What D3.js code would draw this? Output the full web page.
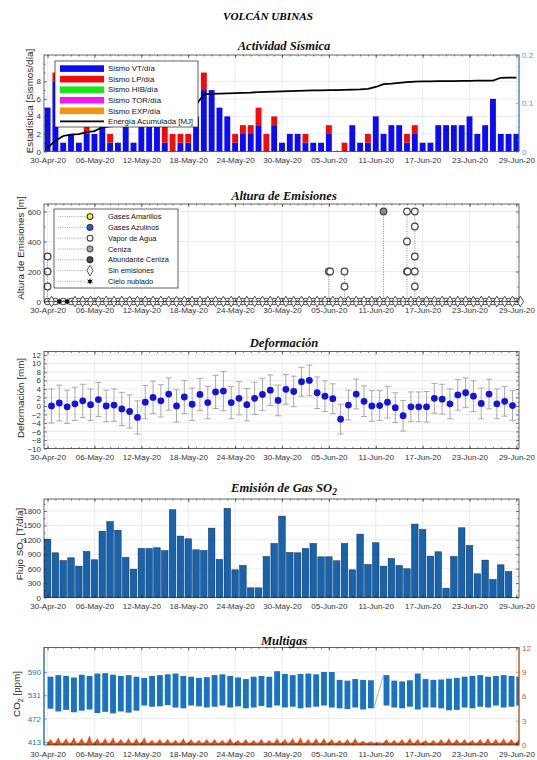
<!DOCTYPE html>
<html><head><meta charset="utf-8">
<script src="https://cdn.jsdelivr.net/npm/d3@7/dist/d3.min.js"></script>
<style>body{margin:0;background:#fff}svg{display:block}</style>
</head><body>
<svg id="chart" width="537" height="760"></svg>
<script>
// ===================== DATA =====================
const tickLabels = ["30-Apr-20","06-May-20","12-May-20","18-May-20","24-May-20","30-May-20","05-Jun-20","11-Jun-20","17-Jun-20","23-Jun-20","29-Jun-20"];

// Actividad sísmica (30-Apr .. 29-Jun, 61 days)
const sismoVT = [5,8,1,2,1,2,2,4,1,1,3,1,4,5,4,1,0,1,1,4,7,7,5,4,1,2,2,3,0,3,1,2,2,1,1,1,2,0,0,3,1,1,4,2,3,3,1,2,1,1,3,3,3,3,4,2,3,6,2,2,2];
const sismoLP = [0,1,0,0,0,1,0,0,1,0,0,0,0,0,0,3,2,1,1,0,2,0,0,0,1,1,1,2,2,1,0,0,0,1,0,0,1,0,1,0,0,1,0,0,0,0,1,1,0,0,0,0,0,0,0,0,0,0,0,0,0];
const energia = [0.008,0.022,0.032,0.035,0.036,0.040,0.042,0.050,0.052,0.053,0.058,0.059,0.066,0.074,0.080,0.086,0.089,0.091,0.093,0.096,0.118,0.119,0.1195,0.120,0.1205,0.121,0.1215,0.1225,0.123,0.1235,0.124,0.1245,0.125,0.1255,0.126,0.126,0.1265,0.1265,0.127,0.1275,0.128,0.129,0.133,0.139,0.140,0.1415,0.143,0.144,0.1445,0.1445,0.145,0.145,0.145,0.1455,0.1455,0.146,0.146,0.146,0.152,0.1525,0.1525];
const sismoLeyenda = ["Sismo VT/día","Sismo LP/día","Sismo HIB/día","Sismo TOR/día","Sismo EXP/día","Energía Acumulada [MJ]"];
const sismoColores = ["#0b0bf5","#f50a0a","#19e619","#f019f0","#f5960a","#000000"];

// Altura de emisiones
const emisDia  = [0,0,0,36,36.2,38,38,43,46,46.1,46,46,47,47,47,47,47];
const emisAlt  = [100,200,300,200,200,100,200,600,200,200,400,600,100,200,300,500,600];
const emisTipo = ["vapor","vapor","vapor","vapor","vapor","vapor","vapor","ceniza","vapor","vapor","vapor","vapor","vapor","vapor","vapor","vapor","vapor"];
const nubladoDia = [1,2];
const emisLeyenda = ["Gases Amarillos","Gases Azulinos","Vapor de Agua","Ceniza","Abundante Ceniza","Sin emisiones","Cielo nublado"];

// Deformación (diaria, 30-Apr .. 28-Jun)
const deformacion = [0.0,0.7,-0.2,0.5,1.2,0.3,1.5,0.0,0.2,-0.7,-1.3,-2.7,0.9,2.0,1.2,2.8,0.0,2.1,0.4,2.7,0.8,3.3,3.5,0.8,1.8,0.3,1.8,2.7,3.7,1.3,3.9,3.4,5.7,6.0,3.1,2.3,1.7,-3.1,0.2,2.8,1.1,0.0,0.1,0.9,-0.4,-2.3,-0.2,-0.2,-0.2,1.8,1.6,0.5,2.6,3.1,2.3,0.6,2.8,0.5,1.1,0.1];
const deformErr = [4.0,4.2,3.9,3.9,3.9,3.7,4.0,3.7,3.8,3.9,3.9,3.9,3.9,3.8,3.8,3.8,3.8,3.9,3.8,3.8,3.8,3.9,4.6,3.8,3.9,3.8,3.8,3.8,3.6,3.6,3.5,3.6,3.4,3.6,3.7,3.6,3.5,3.5,3.5,3.5,3.6,3.6,3.5,3.7,3.5,3.6,3.5,3.5,3.6,3.5,3.5,3.5,3.6,3.5,3.6,3.6,3.5,3.5,3.5,3.5];

// Flujo SO2 [T/día] (30-Apr .. 28-Jun)
const so2 = [1215,930,770,826,653,958,785,1380,1580,1400,833,590,1020,1020,1035,975,1826,1278,1222,993,979,1444,792,1854,576,667,201,201,854,1125,1694,937,930,1020,1125,847,847,764,1125,576,1319,687,1139,653,812,667,597,1528,1417,861,951,194,854,1451,1083,493,778,375,680,541];

// Multigas: CO2 rango diario [ppm] y serie derecha (eje 0-12)
const co2Min = [497,490,494,488,492,495,486,489,485,490,487,492,505,502,503,506,500,498,505,503,500,502,505,500,503,498,500,504,500,505,500,502,498,500,502,505,500,498,496,500,495,498,null,505,500,498,502,495,500,500,498,493,494,500,498,502,500,505,500,502,505];
const co2Max = [578,582,580,576,583,580,586,587,583,580,582,578,575,580,582,584,586,580,578,575,577,582,584,580,576,572,578,580,578,592,585,582,585,586,584,590,590,570,568,572,570,569,null,582,568,566,569,586,572,570,571,573,575,578,580,582,578,580,582,580,578];
const gasDerMax = [0.7,0.9,0.8,0.9,0.8,1.1,0.8,0.8,0.9,0.7,0.8,0.8,0.9,0.6,0.7,0.7,0.6,0.8,0.7,0.6,0.7,0.7,0.6,0.8,0.6,0.7,0.6,0.7,0.6,0.8,0.7,0.8,0.9,0.7,0.8,0.8,0.7,0.6,0.7,0.8,0.5,0.4,0.3,0.7,0.6,0.7,0.8,0.7,0.6,0.6,0.7,0.8,0.7,0.7,0.6,0.7,0.8,0.7,0.8,0.7,0.8];
const gasDerBase = 0.25;

// ===================== CHART =====================
const FONT = "'Liberation Sans', Arial, Helvetica, sans-serif";
const SERIF = "'Liberation Serif', 'Times New Roman', serif";
const svg = d3.select("#chart");
const parse = d3.timeParse("%d-%b-%y");
const tickDates = tickLabels.map(parse);
const start = tickDates[0], end = tickDates[tickDates.length - 1];
const days = d3.timeDay.range(start, d3.timeDay.offset(end, 1));
const hr = (d, h) => d3.timeHour.offset(d, h);
const L = 44, R = 519;
const x = d3.scaleTime().domain([hr(start, -11), hr(end, 8)]).range([L, R]);
const GRID = "#e4e4e4", AX = "#262626";

function styleAxis(sel, color) {
  sel.attr("font-family", FONT).attr("font-size", 8).attr("color", color || AX);
  sel.select(".domain").remove();
  sel.selectAll(".tick line").attr("stroke-width", 0.6);
  sel.selectAll(".tick text").attr("fill", color || "#333");
}
function grid(g, y, yTicks) {
  const [b, t] = y.range();
  g.append("g").selectAll("line").data(tickDates).join("line")
    .attr("x1", d => x(d)).attr("x2", d => x(d)).attr("y1", t).attr("y2", b)
    .attr("stroke", GRID).attr("stroke-width", 0.7);
  g.append("g").selectAll("line").data(yTicks).join("line")
    .attr("x1", L).attr("x2", R).attr("y1", d => y(d)).attr("y2", d => y(d))
    .attr("stroke", GRID).attr("stroke-width", 0.7);
}
function frame(g, y, o) {
  const [b, t] = y.range();
  g.append("g").attr("transform", `translate(0,${b})`)
    .call(d3.axisBottom(x).tickValues(tickDates).tickFormat((d, i) => tickLabels[i]).tickSizeInner(-3).tickSizeOuter(0).tickPadding(6))
    .call(styleAxis);
  g.append("g").attr("transform", `translate(0,${b})`)
    .call(d3.axisBottom(x).tickValues(days).tickSize(-1.5).tickFormat("")).call(styleAxis);
  g.append("g").attr("transform", `translate(0,${t})`)
    .call(d3.axisTop(x).tickValues(tickDates).tickSize(-3).tickFormat("")).call(styleAxis);
  g.append("g").attr("transform", `translate(0,${t})`)
    .call(d3.axisTop(x).tickValues(days).tickSize(-1.5).tickFormat("")).call(styleAxis);
  g.append("g").attr("transform", `translate(${L},0)`)
    .call(d3.axisLeft(y).tickValues(o.yTicks).tickFormat(o.fmt || d3.format("d")).tickSizeInner(-3).tickSizeOuter(0).tickPadding(3))
    .call(styleAxis, o.leftColor);
  if (o.yMinor) g.append("g").attr("transform", `translate(${L},0)`)
    .call(d3.axisLeft(y).tickValues(o.yMinor).tickSize(-1.5).tickFormat("")).call(styleAxis, o.leftColor);
  if (!o.noRight) {
    g.append("g").attr("transform", `translate(${R},0)`)
      .call(d3.axisRight(y).tickValues(o.yTicks).tickSize(-3).tickFormat("")).call(styleAxis);
    if (o.yMinor) g.append("g").attr("transform", `translate(${R},0)`)
      .call(d3.axisRight(y).tickValues(o.yMinor).tickSize(-1.5).tickFormat("")).call(styleAxis);
  }
  g.append("rect").attr("x", L).attr("y", t).attr("width", R - L).attr("height", b - t)
    .attr("fill", "none").attr("stroke", AX).attr("stroke-width", 0.7);
  if (o.leftColor) g.append("line").attr("x1", L).attr("x2", L).attr("y1", t).attr("y2", b).attr("stroke", o.leftColor).attr("stroke-width", 0.9);
}
function ptitle(yb, text, sub) {
  const t = svg.append("text").attr("x", 284).attr("y", yb).attr("text-anchor", "middle")
    .attr("font-family", SERIF).attr("font-weight", "bold").attr("font-style", "italic").attr("font-size", 12.6).attr("fill", "#111");
  t.append("tspan").text(text);
  if (sub) { t.append("tspan").attr("dy", 3.5).attr("font-size", 9.5).text(sub); }
}
function ylabel(xp, yc, parts) {
  const t = svg.append("text").attr("transform", `translate(${xp},${yc}) rotate(-90)`).attr("text-anchor", "middle")
    .attr("font-family", FONT).attr("font-size", 9.8).attr("fill", AX);
  parts.forEach(p => { const s = t.append("tspan").text(p.t); if (p.dy) s.attr("dy", p.dy); if (p.fs) s.attr("font-size", p.fs); });
}
function clip(id, y) {
  const [b, t] = y.range();
  svg.append("clipPath").attr("id", id).append("rect").attr("x", L).attr("y", t).attr("width", R - L).attr("height", b - t);
  return `url(#${id})`;
}

// Main title
svg.append("text").attr("x", 268).attr("y", 19.5).attr("text-anchor", "middle")
  .attr("font-family", SERIF).attr("font-weight", "bold").attr("font-style", "italic").attr("font-size", 11.2).text("VOLCÁN UBINAS");

// ---------- Panel 1: Actividad Sísmica ----------
{
  const y = d3.scaleLinear().domain([0, 11]).range([151.5, 55]);
  const yE = d3.scaleLinear().domain([0, 0.2]).range([151.5, 54.5]);
  const g = svg.append("g");
  ptitle(50, "Actividad Sísmica");
  grid(g, y, [2, 4, 6, 8]);
  const data = g.append("g").attr("clip-path", clip("c1", y));
  const bw = x(hr(start, 9)) - x(hr(start, -9));
  data.selectAll(".vt").data(days).join("rect")
    .attr("x", d => x(d) - bw / 2).attr("width", bw)
    .attr("y", (d, i) => y(sismoVT[i])).attr("height", (d, i) => y(0) - y(sismoVT[i]))
    .attr("fill", sismoColores[0]);
  data.selectAll(".lp").data(days).join("rect")
    .attr("x", d => x(d) - bw / 2).attr("width", bw)
    .attr("y", (d, i) => y(sismoVT[i] + sismoLP[i])).attr("height", (d, i) => y(sismoVT[i]) - y(sismoVT[i] + sismoLP[i]))
    .attr("fill", sismoColores[1]);
  data.append("path").datum(days)
    .attr("d", d3.line().x(d => x(d)).y((d, i) => yE(energia[i])))
    .attr("fill", "none").attr("stroke", "#000").attr("stroke-width", 1.8);
  frame(g, y, { yTicks: [0, 2, 4, 6, 8], yMinor: [1, 3, 5, 7, 9, 10], noRight: true });
  const RC = "#4a9ad4";
  g.append("g").attr("transform", `translate(${R},0)`)
    .call(d3.axisRight(yE).tickValues([0, 0.1, 0.2]).tickFormat(d => d === 0 ? "0" : d3.format(".1f")(d)).tickSizeInner(-3).tickSizeOuter(0).tickPadding(3))
    .call(styleAxis, RC);
  g.append("g").attr("transform", `translate(${R},0)`)
    .call(d3.axisRight(yE).tickValues([0.025, 0.05, 0.075, 0.125, 0.15, 0.175]).tickSize(-1.5).tickFormat("")).call(styleAxis, RC);
  g.append("line").attr("x1", R).attr("x2", R).attr("y1", 54.5).attr("y2", 151.5).attr("stroke", RC).attr("stroke-width", 0.9);
  // legend
  const lg = g.append("g");
  lg.append("rect").attr("x", 55).attr("y", 61).attr("width", 143).attr("height", 66).attr("fill", "#fff").attr("stroke", "#222").attr("stroke-width", 0.7);
  sismoLeyenda.forEach((t, k) => {
    const yy = 68.6 + k * 10.55;
    if (k < 5) lg.append("rect").attr("x", 60).attr("y", yy - 3.3).attr("width", 44).attr("height", 6.6).attr("fill", sismoColores[k]);
    else lg.append("line").attr("x1", 60).attr("x2", 104).attr("y1", yy).attr("y2", yy).attr("stroke", "#000").attr("stroke-width", 1.8);
    lg.append("text").attr("x", 108).attr("y", yy).attr("dy", "0.35em").attr("font-family", FONT).attr("font-size", 7.8).attr("fill", "#111").text(t);
  });
  ylabel(33, 101, [{ t: "Estadística [Sismos/día]" }]);
}

// ---------- Panel 2: Altura de Emisiones ----------
const markerStyle = {
  amarillo: { fill: "#ffff00", stroke: "#333" },
  azulino: { fill: "#1f5fd0", stroke: "#333" },
  vapor: { fill: "#fff", stroke: "#444" },
  ceniza: { fill: "#8c8c8c", stroke: "#444" },
  abundante: { fill: "#4d4d4d", stroke: "#222" }
};
{
  const y = d3.scaleLinear().domain([0, 650]).range([301.5, 204]);
  const g = svg.append("g");
  ptitle(200, "Altura de Emisiones");
  grid(g, y, [200, 400, 600]);
  const data = g.append("g");
  const stemDays = Array.from(d3.rollup(emisDia.map((d, i) => [Math.round(d), emisAlt[i]]), v => d3.max(v, e => e[1]), e => e[0]));
  data.selectAll(".stem").data(stemDays).join("line")
    .attr("x1", d => x(hr(start, d[0] * 24))).attr("x2", d => x(hr(start, d[0] * 24)))
    .attr("y1", y(0)).attr("y2", d => y(d[1]))
    .attr("stroke", "#555").attr("stroke-width", 0.7).attr("stroke-dasharray", "1,1.4");
  data.selectAll(".base").data(days).join("circle")
    .attr("cx", d => x(d)).attr("cy", y(0)).attr("r", 3.2)
    .attr("fill", "#fff").attr("stroke", "#555").attr("stroke-width", 1.1);
  const diamond = d3.symbol().type(d3.symbolDiamond).size(34);
  data.selectAll(".dia").data(days.filter((d, i) => !nubladoDia.includes(i))).join("path")
    .attr("transform", d => `translate(${x(hr(d, 12))},${y(0)})`).attr("d", diamond)
    .attr("fill", "#fff").attr("stroke", "#555").attr("stroke-width", 1);
  const ast = d3.symbol().type(d3.symbolAsterisk).size(22);
  data.selectAll(".nub").data(nubladoDia).join("g")
    .attr("transform", d => `translate(${x(hr(days[d], 12))},${y(0)})`)
    .call(s => { s.append("path").attr("d", ast).attr("stroke", "#000").attr("stroke-width", 1); s.append("circle").attr("r", 1.8).attr("fill", "#000"); });
  data.selectAll(".em").data(emisDia).join("circle")
    .attr("cx", d => x(hr(start, d * 24))).attr("cy", (d, i) => y(emisAlt[i])).attr("r", 3.3)
    .attr("fill", (d, i) => markerStyle[emisTipo[i]].fill).attr("stroke", (d, i) => markerStyle[emisTipo[i]].stroke).attr("stroke-width", 1.2);
  frame(g, y, { yTicks: [0, 200, 400, 600], yMinor: [100, 300, 500] });
  const lg = g.append("g");
  lg.append("rect").attr("x", 54).attr("y", 209).attr("width", 124).attr("height", 79).attr("fill", "#fff").attr("stroke", "#222").attr("stroke-width", 0.7);
  const styles = [markerStyle.amarillo, markerStyle.azulino, markerStyle.vapor, { fill: "#a8a8a8", stroke: "#555" }, markerStyle.abundante];
  emisLeyenda.forEach((t, k) => {
    const yy = 216.6 + k * 10.8;
    lg.append("line").attr("x1", 58).attr("x2", 86).attr("y1", yy).attr("y2", yy).attr("stroke", "#666").attr("stroke-width", 0.6).attr("stroke-dasharray", "1,1.2");
    if (k < 5) lg.append("circle").attr("cx", 90).attr("cy", yy).attr("r", 2.9).attr("fill", styles[k].fill).attr("stroke", styles[k].stroke).attr("stroke-width", 1.1);
    else if (k === 5) lg.append("path").attr("transform", `translate(90,${yy})`).attr("d", diamond).attr("fill", "#fff").attr("stroke", "#555");
    else lg.append("g").attr("transform", `translate(90,${yy})`).call(s => { s.append("path").attr("d", ast).attr("stroke", "#000"); s.append("circle").attr("r", 1.6).attr("fill", "#000"); });
    lg.append("text").attr("x", 108).attr("y", yy).attr("dy", "0.35em").attr("font-family", FONT).attr("font-size", 7.4).attr("fill", "#111").text(t);
  });
  ylabel(23.5, 248, [{ t: "Altura de Emisiones [m]" }]);
}

// ---------- Panel 3: Deformación ----------
{
  const y = d3.scaleLinear().domain([-10, 12.8]).range([448.5, 351.5]);
  const g = svg.append("g");
  ptitle(347, "Deformación");
  const yt = d3.range(-10, 13, 2);
  grid(g, y, yt);
  const data = g.append("g");
  const dd = days.slice(0, deformacion.length);
  const xd = d => x(hr(d, 12));
  data.append("path").datum(dd).attr("d", d3.line().x(xd).y((d, i) => y(deformacion[i])))
    .attr("fill", "none").attr("stroke", "#9a9ac8").attr("stroke-width", 0.6).attr("stroke-dasharray", "1,1.5");
  const eb = data.selectAll(".eb").data(dd).join("g").attr("stroke", "#a0a0a0").attr("stroke-width", 0.9);
  eb.append("line").attr("x1", xd).attr("x2", xd).attr("y1", (d, i) => y(deformacion[i] - deformErr[i])).attr("y2", (d, i) => y(deformacion[i] + deformErr[i]));
  eb.append("line").attr("x1", d => xd(d) - 3).attr("x2", d => xd(d) + 3).attr("y1", (d, i) => y(deformacion[i] - deformErr[i])).attr("y2", (d, i) => y(deformacion[i] - deformErr[i]));
  eb.append("line").attr("x1", d => xd(d) - 3).attr("x2", d => xd(d) + 3).attr("y1", (d, i) => y(deformacion[i] + deformErr[i])).attr("y2", (d, i) => y(deformacion[i] + deformErr[i]));
  data.selectAll(".pt").data(dd).join("circle").attr("cx", xd).attr("cy", (d, i) => y(deformacion[i])).attr("r", 3.4).attr("fill", "#1414d6");
  frame(g, y, { yTicks: yt, yMinor: d3.range(-9, 13, 2) });
  ylabel(23.5, 398, [{ t: "Deformación [mm]" }]);
}

// ---------- Panel 4: Emisión de Gas SO2 ----------
{
  const y = d3.scaleLinear().domain([0, 2050]).range([597.5, 499]);
  const g = svg.append("g");
  ptitle(491.5, "Emisión de Gas SO", "2");
  const yt = d3.range(0, 1801, 300);
  grid(g, y, yt);
  const bw = x(hr(start, 10)) - x(hr(start, -10));
  g.append("g").selectAll("rect").data(days.slice(0, so2.length)).join("rect")
    .attr("x", d => x(d) - bw / 2).attr("width", bw)
    .attr("y", (d, i) => y(so2[i])).attr("height", (d, i) => y(0) - y(so2[i]))
    .attr("fill", "#1763ad").attr("stroke", "#0c2a4d").attr("stroke-width", 0.5);
  frame(g, y, { yTicks: yt, yMinor: d3.range(150, 2050, 300) });
  ylabel(22.5, 544, [{ t: "Flujo SO" }, { t: "2", dy: 3, fs: 7 }, { t: " [T/día]", dy: -3 }]);
}

// ---------- Panel 5: Multigas ----------
{
  const y = d3.scaleLinear().domain([405, 652]).range([745, 647.5]);
  const yR = d3.scaleLinear().domain([0, 12]).range([745, 647.5]);
  const g = svg.append("g");
  ptitle(645, "Multigas");
  const yt = [413, 472, 531, 590];
  grid(g, y, yt);
  const data = g.append("g").attr("clip-path", clip("c5", y));
  const BL = "#1a73c0", OR = "#d95319";
  const valid = days.map((d, i) => i).filter(i => co2Min[i] != null);
  data.selectAll(".co2").data(valid).join("rect")
    .attr("x", i => x(days[i])).attr("width", i => x(hr(days[i], 18)) - x(days[i]))
    .attr("y", i => y(co2Max[i])).attr("height", i => y(co2Min[i]) - y(co2Max[i]))
    .attr("fill", BL);
  data.append("line").attr("x1", x(hr(days[41], 18))).attr("y1", y(co2Min[41]))
    .attr("x2", x(days[43])).attr("y2", y(co2Max[43])).attr("stroke", BL).attr("stroke-width", 0.5);
  const areaPts = [];
  days.forEach((d, i) => {
    areaPts.push([x(d), yR(gasDerBase)], [x(hr(d, 9)), yR(gasDerMax[i])], [x(hr(d, 16)), yR(gasDerBase)]);
  });
  const poly = [[x(days[0]), yR(0)], ...areaPts, [x(hr(days[60], 24)), yR(gasDerBase)], [x(hr(days[60], 24)), yR(0)]];
  data.append("path").attr("d", "M" + poly.map(p => p.join(",")).join("L") + "Z").attr("fill", OR).attr("stroke", OR).attr("stroke-width", 0.4);
  frame(g, y, { yTicks: yt, leftColor: BL, noRight: true });
  g.append("g").attr("transform", `translate(${R},0)`)
    .call(d3.axisRight(yR).tickValues([0, 3, 6, 9, 12]).tickSizeInner(-3).tickSizeOuter(0).tickPadding(3))
    .call(styleAxis, OR);
  g.append("line").attr("x1", R).attr("x2", R).attr("y1", 647.5).attr("y2", 745).attr("stroke", OR).attr("stroke-width", 0.9);
  ylabel(20, 694, [{ t: "CO" }, { t: "2", dy: 3, fs: 7 }, { t: " [ppm]", dy: -3 }]);
}
</script>
</body></html>
